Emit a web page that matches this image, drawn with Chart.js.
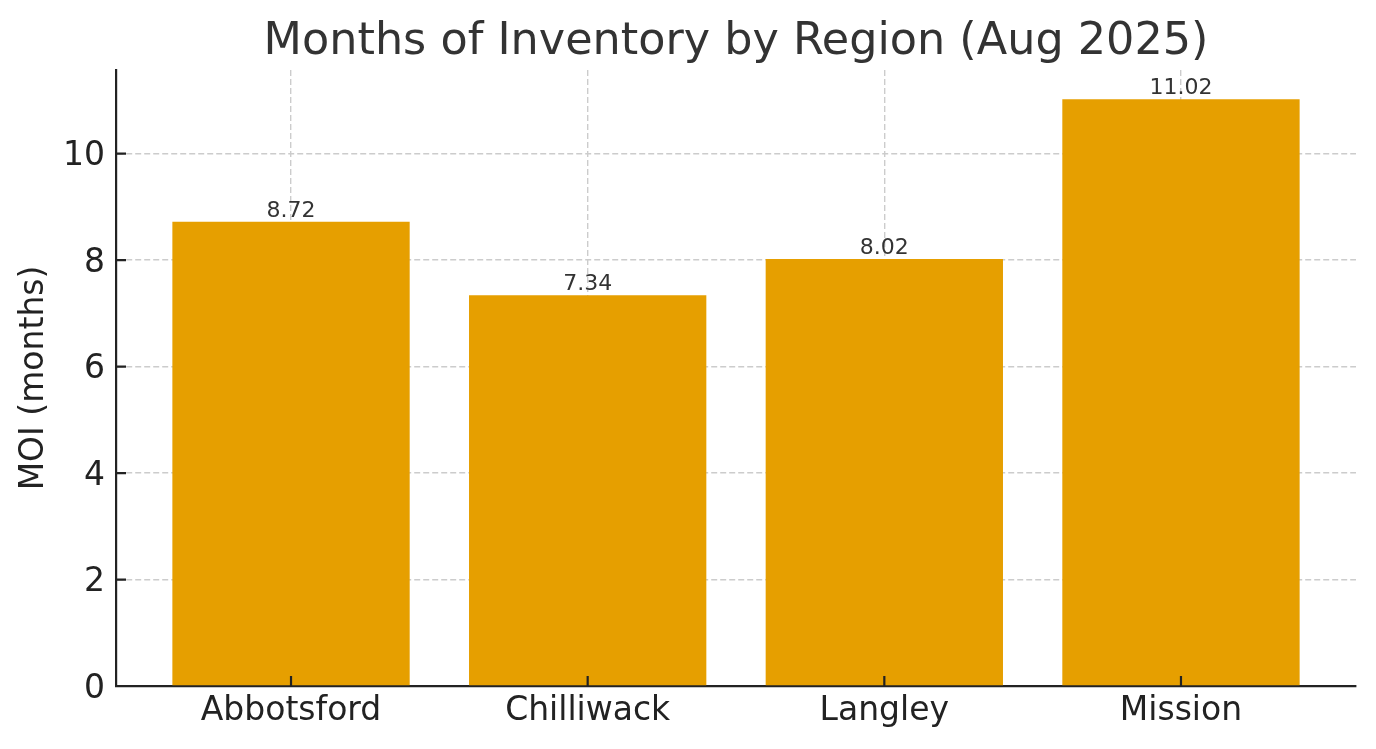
<!DOCTYPE html>
<html>
<head>
<meta charset="utf-8">
<script src="https://cdn.jsdelivr.net/npm/chart.js@4.4.0/dist/chart.umd.min.js"></script>
<style>
  html, body { margin: 0; padding: 0; background: #fff; }
  #wrap { width: 1376px; height: 749px; }
</style>
</head>
<body>
<div id="wrap"><canvas id="moiChart"></canvas></div>
<script>
// データ
const regions = ['Abbotsford', 'Chilliwack', 'Langley', 'Mission'];
const moiValues = [8.72, 7.34, 8.02, 11.02];
const yTicks = [0, 2, 4, 6, 8, 10];

const FONT = "'DejaVu Sans', sans-serif";
const BAR_COLOR = '#E69F00';
const AXIS_COLOR = '#222222';

// 棒の上に値を描画
const valueLabels = {
  id: 'valueLabels',
  afterDatasetsDraw(chart) {
    const ctx = chart.ctx;
    const meta = chart.getDatasetMeta(0);
    ctx.save();
    ctx.font = '22px ' + FONT;
    ctx.fillStyle = '#333333';
    ctx.textAlign = 'center';
    ctx.textBaseline = 'alphabetic';
    meta.data.forEach((bar, i) => {
      ctx.fillText(moiValues[i].toFixed(2), bar.x, bar.y - 5);
    });
    ctx.restore();
  }
};

// 内向きの目盛り線（matplotlib風）
const innerTicks = {
  id: 'innerTicks',
  afterDraw(chart) {
    const ctx = chart.ctx;
    const area = chart.chartArea;
    const xs = chart.scales.x;
    const ys = chart.scales.y;
    ctx.save();
    ctx.strokeStyle = AXIS_COLOR;
    ctx.lineWidth = 2.2;
    ctx.setLineDash([]);
    ctx.beginPath();
    xs.ticks.forEach(t => {
      const px = xs.getPixelForValue(t.value);
      ctx.moveTo(px, area.bottom);
      ctx.lineTo(px, area.bottom - 10);
    });
    ys.ticks.forEach(t => {
      const py = ys.getPixelForValue(t.value);
      ctx.moveTo(area.left, py);
      ctx.lineTo(area.left + 10, py);
    });
    ctx.stroke();
    ctx.restore();
  }
};

const gridStyle = () => ({
  color: '#cccccc',
  lineWidth: 1.4,
  offset: false,
  drawTicks: false
});
const borderStyle = () => ({ display: true, color: AXIS_COLOR, width: 2.2, dash: [6, 3] });

new Chart(document.getElementById('moiChart'), {
  type: 'bar',
  data: {
    datasets: [{
      data: moiValues.map((v, i) => ({ x: i, y: v })),
      backgroundColor: BAR_COLOR,
      borderWidth: 0,
      barPercentage: 0.8,
      categoryPercentage: 1.0
    }]
  },
  options: {
    responsive: true,
    maintainAspectRatio: false,
    animation: false,
    devicePixelRatio: 1,
    layout: { padding: { left: 0, right: 20, top: 0, bottom: 0 } },
    plugins: {
      legend: { display: false },
      tooltip: { enabled: false },
      title: {
        display: true,
        fullSize: false,
        text: 'Months of Inventory by Region (Aug 2025)',
        color: '#333333',
        font: { family: FONT, size: 44.5, weight: 'normal', lineHeight: 1.2 },
        padding: { top: 16, bottom: 0.6 }
      }
    },
    scales: {
      x: {
        type: 'linear',
        min: -0.59,
        max: 3.59,
        offset: false,
        z: 1,
        grid: gridStyle(),
        border: borderStyle(),
        ticks: {
          padding: 6,
          color: AXIS_COLOR,
          font: { family: FONT, size: 33 },
          maxRotation: 0,
          autoSkip: false,
          callback: (value) => regions[value]
        },
        afterBuildTicks: (scale) => {
          scale.ticks = regions.map((r, i) => ({ value: i }));
        },
        afterFit: (scale) => { scale.height = 63; }
      },
      y: {
        min: 0,
        max: 11.571,
        z: 1,
        grid: gridStyle(),
        border: borderStyle(),
        ticks: {
          padding: 11,
          labelOffset: 3,
          color: AXIS_COLOR,
          font: { family: FONT, size: 33 },
          callback: (value) => value
        },
        afterBuildTicks: (scale) => {
          scale.ticks = yTicks.map(v => ({ value: v }));
        },
        afterFit: (scale) => { scale.width = 116; },
        title: {
          display: true,
          text: 'MOI (months)',
          color: AXIS_COLOR,
          font: { family: FONT, size: 33, lineHeight: 1.2 },
          padding: { top: 15, bottom: 0 }
        }
      }
    }
  },
  plugins: [valueLabels, innerTicks]
});
</script>
</body>
</html>
